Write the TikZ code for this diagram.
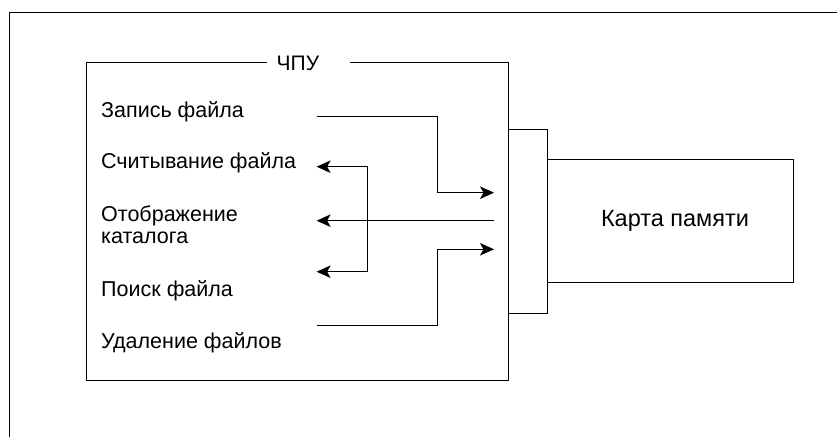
\documentclass[tikz,border=0pt]{standalone}
\usepackage{fontspec}
\setmainfont{Liberation Sans}
\usetikzlibrary{arrows.meta,positioning}

\begin{document}
\begin{tikzpicture}[x=1pt,y=-1pt,
lbl/.style={anchor=base west,inner sep=0pt,font=\fontsize{21.5}{21.8}\selectfont},
box/.style={draw,line width=1pt,inner sep=0pt},
wire/.style={line width=1pt},
arr/.style={wire,-{Stealth[length=14pt,width=12.5pt,inset=3.5pt]}},
darr/.style={wire,{Stealth[length=14pt,width=12.5pt,inset=3.5pt]}-{Stealth[length=14pt,width=12.5pt,inset=3.5pt]}}
]
\useasboundingbox (0,0) rectangle (837,437);
% outer frame
\draw[line width=1.4pt] (9.5,437) -- (9.5,12.5) -- (837,12.5);

% CNC block with title in its top edge
\node[box,minimum width=422pt,minimum height=318pt] (chpu) at (297,221) {};
\node[fill=white,inner xsep=0pt,inner ysep=2pt,anchor=west,font=\fontsize{21}{22}\selectfont] (chputitle) at (267,63.5) {\hspace*{9.5pt}ЧПУ\hspace*{31pt}};
\node[box,minimum width=39pt,minimum height=184pt,right=-1pt of chpu] (razem) {};
\node[box,minimum width=246pt,minimum height=122.7pt,right=-1pt of razem,font=\fontsize{23.5}{24}\selectfont] (karta) {\hspace*{10pt}Карта памяти};

% functions
\node[lbl] (zapis) at (101,117) {Запись файла};
\node[lbl] (chtenie) at (101,168.5) {Считывание файла};
\node[lbl,align=left] (katalog) at (101,243.3) {Отображение\\каталога};
\node[lbl] (poisk) at (101,296.5) {Поиск файла};
\node[lbl] (udal) at (101,348) {Удаление файлов};

% connector ends
\coordinate (zapisL) at (316.6,116);
\coordinate (zapisR) at (494,192.7);
\coordinate (chtenieL) at (316.6,166.7);
\coordinate (poiskL) at (316.6,271.7);
\coordinate (katalogL) at (316.6,220.7);
\coordinate (katalogR) at (494,220.7);
\coordinate (udalL) at (316.6,325.7);
\coordinate (udalR) at (494,249.3);

\draw[arr] (zapisL) -| (437.8,192.7) -- (zapisR);
\draw[darr] (chtenieL) -- ++(50.4,0) |- (poiskL);
\draw[arr] (katalogR) -- (katalogL);
\draw[arr] (udalL) -| (437.8,249.3) -- (udalR);
\end{tikzpicture}
\end{document}
